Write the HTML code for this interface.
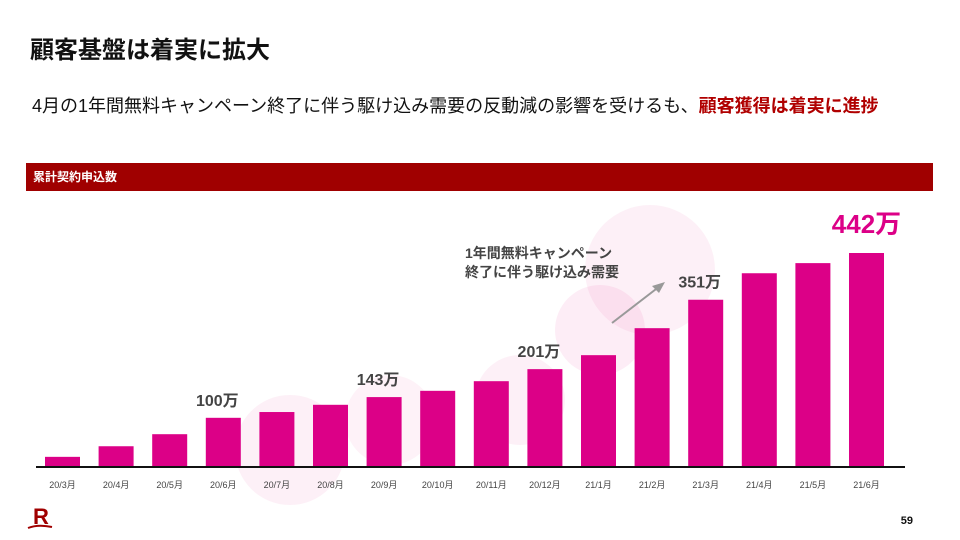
<!DOCTYPE html>
<html><head><meta charset="utf-8">
<style>
body{margin:0;width:960px;height:540px;background:#fff;overflow:hidden;position:relative;font-family:"Liberation Sans","Noto Sans CJK JP",sans-serif}
.abs{position:absolute}
</style></head><body>
<div class="abs" style="left:30px;top:30px;font-size:24px;font-weight:bold;color:#111;white-space:nowrap">顧客基盤は着実に拡大</div>
<div class="abs" style="left:32px;top:92px;font-size:18px;color:#111;white-space:nowrap">4月の1年間無料キャンペーン終了に伴う駆け込み需要の反動減の影響を受けるも、<b style="color:#b00000">顧客獲得は着実に進捗</b></div>
<div class="abs" style="left:26px;top:163px;width:907px;height:28px;background:#a00000;color:#fff;font-size:12px;font-weight:bold;line-height:28px;padding-left:7px;box-sizing:border-box">累計契約申込数</div>
<svg class="abs" style="left:0;top:0" width="960" height="540">
<g id="deco" fill="#e4007f">
<circle cx="290" cy="450" r="55" opacity="0.06"/>
<circle cx="390" cy="420" r="45" opacity="0.05"/>
<circle cx="520" cy="400" r="45" opacity="0.06"/>
<circle cx="600" cy="330" r="45" opacity="0.07"/>
<circle cx="650" cy="270" r="65" opacity="0.06"/>
</g>
<line x1="36" y1="467" x2="905" y2="467" stroke="#111" stroke-width="2"/>
<g id="bars"></g><g id="xlabels"></g><g id="vlabels"></g>
<line x1="612" y1="323" x2="660" y2="286" stroke="#999" stroke-width="2"/>
<polygon points="665,282 652,286 659,293" fill="#999"/>
<text x="465" y="258" font-size="14" font-weight="bold" fill="#444">1年間無料キャンペーン</text>
<text x="465" y="277" font-size="14" font-weight="bold" fill="#444">終了に伴う駆け込み需要</text>
<text x="913" y="524" font-size="11" font-weight="bold" fill="#111" text-anchor="end">59</text>
<text x="33" y="524" font-size="22" font-weight="bold" fill="#a00000">R</text>
<path d="M28 528 Q38 524 52 527" stroke="#a00000" stroke-width="2" fill="none"/>
</svg>
<script>
const categories=["20/3月","20/4月","20/5月","20/6月","20/7月","20/8月","20/9月","20/10月","20/11月","20/12月","21/1月","21/2月","21/3月","21/4月","21/5月","21/6月"];
const values=[19,41,66,100,112,127,143,156,176,201,230,286,345,400,421,442];
const labelIdx=[3,6,9,12,15];
const labelText=["100万","143万","201万","351万","442万"];
const NS="http://www.w3.org/2000/svg";
const base=466,scale=213/442;
function xC(i){return 62.5+i*53.6;}
function yV(v){return base-v*scale;}
const bars=document.getElementById('bars'),xl=document.getElementById('xlabels'),vl=document.getElementById('vlabels');
values.forEach((v,i)=>{
 const r=document.createElementNS(NS,'rect');
 r.setAttribute('x',xC(i)-17.5);r.setAttribute('width',35);
 r.setAttribute('y',yV(v));r.setAttribute('height',base-yV(v));
 r.setAttribute('fill','#dc0087');
 
 
 bars.appendChild(r);
 const t=document.createElementNS(NS,'text');
 t.setAttribute('x',xC(i));t.setAttribute('y',488);t.setAttribute('font-size','9');
 t.setAttribute('fill','#444');t.setAttribute('text-anchor','middle');t.textContent=categories[i];
 
 
 xl.appendChild(t);
});
labelIdx.forEach((idx,k)=>{
 const last=k===labelIdx.length-1;
 const t=document.createElementNS(NS,'text');
 t.setAttribute('x',xC(idx)+(last?0:-6));t.setAttribute('y',yV(values[idx])-(last?20:12));
 t.setAttribute('font-size',last?'26':'16');t.setAttribute('font-weight','bold');
 t.setAttribute('fill',last?'#dc0087':'#444');t.setAttribute('text-anchor','middle');
 t.textContent=labelText[k];
 
 
 vl.appendChild(t);
});
</script>
</body></html>
